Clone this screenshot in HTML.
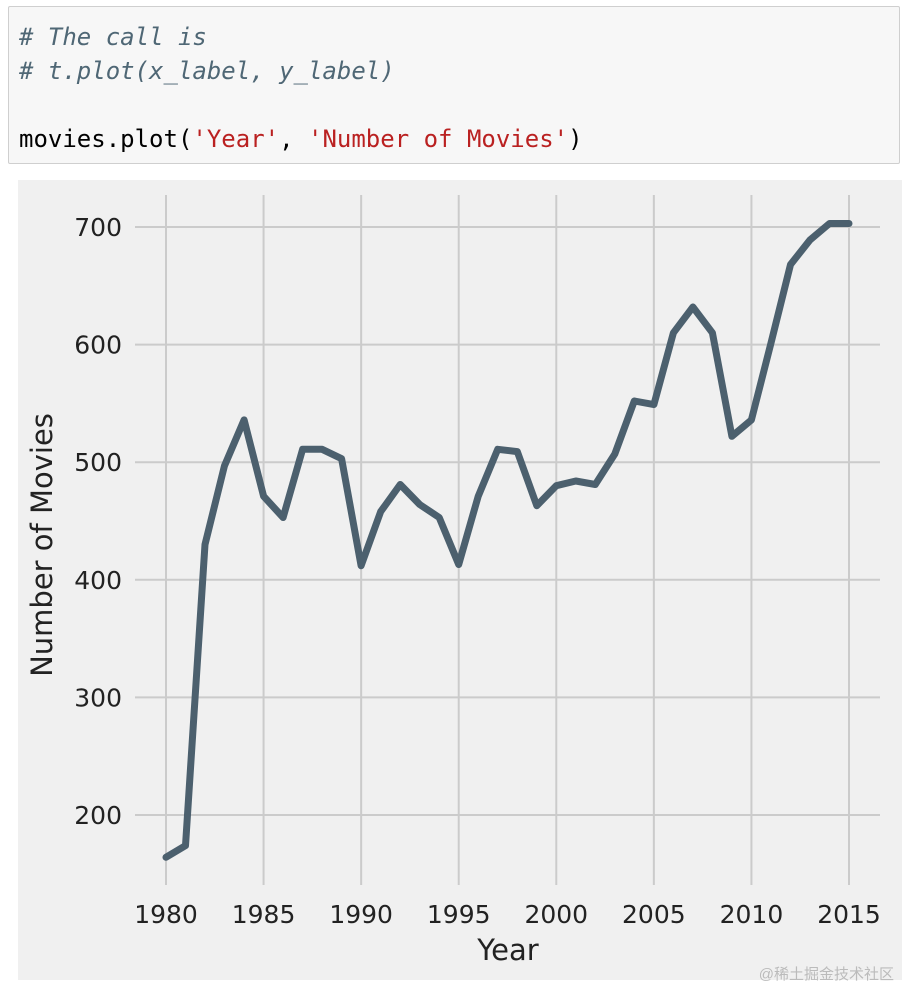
<!DOCTYPE html>
<html><head><meta charset="utf-8"><style>
body{margin:0;width:902px;height:988px;background:#fff;position:relative;overflow:hidden;font-family:"Liberation Sans","DejaVu Sans",sans-serif}
#code{position:absolute;left:8px;top:6px;width:892px;height:158px;background:#f7f7f7;border:1px solid #cfcfcf;border-radius:2px;box-sizing:border-box}
#code pre{margin:0;position:absolute;left:10px;top:13px;font-family:"DejaVu Sans Mono","Liberation Mono",monospace;font-size:24px;line-height:34px;color:#000}
.c{color:#4f6775;font-style:italic}.s{color:#ba2121}
#chart{position:absolute;left:18px;top:180px}
</style></head><body>
<div id="code"><pre><span class="c"># The call is</span>
<span class="c"># t.plot(x_label, y_label)</span>

movies.plot(<span class="s">'Year'</span>, <span class="s">'Number of Movies'</span>)</pre></div>
<svg id="chart" width="884" height="800"></svg>
<div style="position:absolute;right:8px;bottom:4px;font-size:15px;color:#bbb;font-family:'Liberation Sans','Noto Sans CJK SC',sans-serif">@稀土掘金技术社区</div>
<script>
const years=[1980,1981,1982,1983,1984,1985,1986,1987,1988,1989,1990,1991,1992,1993,1994,1995,1996,1997,1998,1999,2000,2001,2002,2003,2004,2005,2006,2007,2008,2009,2010,2011,2012,2013,2014,2015];
const movieCounts=[164,174,430,497,536,471,453,511,511,503,412,458,481,464,453,413,471,511,509,463,480,484,481,507,552,549,610,632,610,522,536,601,668,689,703,703];
const xTicks=[1980,1985,1990,1995,2000,2005,2010,2015];
const yTicks=[200,300,400,500,600,700];
const NS="http://www.w3.org/2000/svg";
const svg=document.getElementById('chart');
const ox=18,oy=180;
function xs(v){return 166-ox+(v-1980)*(849-166)/35;}
function ys(v){return 227-oy+(700-v)*(815-227)/500;}
function mk(t,a,p){const e=document.createElementNS(NS,t);for(const k in a)e.setAttribute(k,a[k]);(p||svg).appendChild(e);return e;}
const bg=mk('rect',{x:0,y:0,width:884,height:800,fill:'#f0f0f0'});


const plotTop=195-oy,plotBot=885-oy,plotL=135-ox,plotR=880-ox;
xTicks.forEach(t=>{
 const l=mk('line',{x1:xs(t),x2:xs(t),y1:plotTop,y2:plotBot,stroke:'#cbcbcb','stroke-width':2});
 
 
 const tx=mk('text',{x:xs(t),y:923-oy,'text-anchor':'middle','font-size':25,fill:'#222','font-family':'DejaVu Sans,sans-serif'});
 tx.textContent=t;
 
 
});
yTicks.forEach(t=>{
 const l=mk('line',{x1:plotL,x2:plotR,y1:ys(t),y2:ys(t),stroke:'#cbcbcb','stroke-width':2});
 
 
 const tx=mk('text',{x:122-ox,y:ys(t)+9,'text-anchor':'end','font-size':25,fill:'#222','font-family':'DejaVu Sans,sans-serif'});
 tx.textContent=t;
 
 
});
const pts=years.map((y,i)=>xs(y).toFixed(1)+','+ys(movieCounts[i]).toFixed(1)).join(' ');
const line=mk('polyline',{points:pts,fill:'none',stroke:'#4c606e','stroke-width':7,'stroke-linejoin':'round','stroke-linecap':'round'});


const xt=mk('text',{x:508-ox,y:960-oy,'text-anchor':'middle','font-size':29,fill:'#222','font-family':'DejaVu Sans,sans-serif'});
xt.textContent='Year';


const yt=mk('text',{x:0,y:0,'text-anchor':'middle','font-size':29,fill:'#222','font-family':'DejaVu Sans,sans-serif',transform:'translate('+(52-ox)+','+(545-oy)+') rotate(-90)'});
yt.textContent='Number of Movies';


</script>
</body></html>
